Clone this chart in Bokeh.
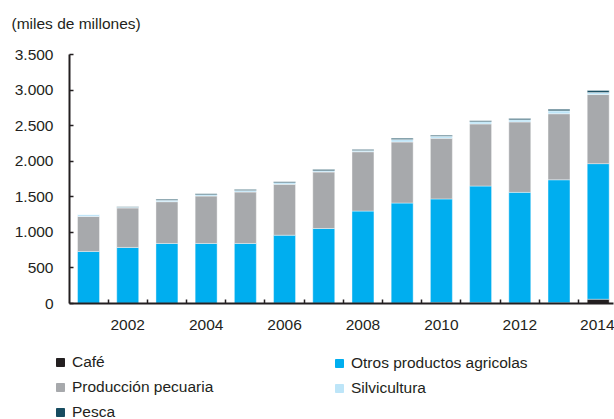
from bokeh.plotting import figure
from bokeh.layouts import column
from bokeh.core.properties import value
from bokeh.models import (ColumnDataSource, FixedTicker, Legend, LegendItem, Range1d)
from bokeh.embed import file_html
from bokeh.resources import INLINE

years = [2001, 2002, 2003, 2004, 2005, 2006, 2007, 2008, 2009, 2010, 2011, 2012, 2013, 2014]
cafe = [3, 3, 3, 3, 3, 5, 5, 5, 5, 15, 15, 8, 12, 60]
otros = [729, 785, 841, 841, 841, 955, 1049, 1294, 1407, 1455, 1636, 1554, 1727, 1906]
pecuaria = [492, 555, 587, 666, 723, 715, 794, 834, 858, 852, 873, 990, 928, 971]
silvicultura = [26, 10, 19, 20, 20, 24, 18, 19, 34, 28, 31, 30, 41, 30]
pesca = [2, 8, 14, 14, 14, 14, 16, 14, 18, 14, 14, 18, 22, 28]

series_keys = ["cafe", "otros", "pecuaria", "silvicultura", "pesca"]
series_names = ["Café", "Otros productos agricolas", "Producción pecuaria", "Silvicultura", "Pesca"]
series_colors = ["#231f20", "#00aeef", "#a7a9ac", "#bde5f8", "#174c60"]

x_label_years = [2002, 2004, 2006, 2008, 2010, 2012, 2014]
x_minor = [2001.5, 2002.5, 2003.5, 2004.5, 2005.5, 2006.5, 2007.5, 2008.5, 2009.5,
           2010.5, 2011.5, 2012.5, 2013.5]
y_ticks = [0, 500, 1000, 1500, 2000, 2500, 3000, 3500]
y_tick_labels = ["0", "500", "1.000", "1.500", "2.000", "2.500", "3.000", "3.500"]
unit_label = "(miles de millones)"

source = ColumnDataSource(dict(years=years, cafe=cafe, otros=otros, pecuaria=pecuaria,
                               silvicultura=silvicultura, pesca=pesca))

FONT = "Liberation Sans"
TXT = "#231f20"
W = 614

# ---- header strip with the unit label ----
p0 = figure(width=W, height=40, output_backend="svg", toolbar_location=None,
            x_range=Range1d(0, W), y_range=Range1d(40, 0),
            x_axis_location=None, y_axis_location=None,
            min_border_left=0, min_border_right=0, min_border_top=0, min_border_bottom=0)
p0.grid.visible = False
p0.outline_line_color = None
p0.frame_align = False
p0.text(x=[11], y=[23], text=[unit_label], text_font=value(FONT), text_font_size="15.5px",
        text_color=TXT, text_baseline="middle", text_align="left")

# ---- main chart ----
p = figure(width=W, height=299, output_backend="svg", toolbar_location=None,
           x_range=Range1d(2000.515, 2014.39), y_range=Range1d(0, 3500),
           min_border_left=69, min_border_right=1, min_border_top=14, min_border_bottom=36)
p.outline_line_color = None
p.xgrid.grid_line_color = None
p.ygrid.grid_line_color = None
p.background_fill_color = "white"
p.frame_align = False

renderers = p.vbar_stack(series_keys, x="years", width=0.56, source=source,
                         color=series_colors, line_color="white", line_width=0.4)

xa = p.xaxis[0]
xa.ticker = FixedTicker(ticks=x_label_years, minor_ticks=x_minor)
xa.axis_line_width = 2
xa.axis_line_color = TXT
xa.major_tick_in = 0
xa.major_tick_out = 0
xa.minor_tick_in = 4
xa.minor_tick_out = 0
xa.minor_tick_line_color = TXT
xa.minor_tick_line_width = 1.5
xa.major_label_text_font = FONT
xa.major_label_text_font_size = "15.5px"
xa.major_label_text_color = TXT
xa.major_label_standoff = 16

ya = p.yaxis[0]
ya.ticker = FixedTicker(ticks=y_ticks)
ya.major_label_overrides = {t: l for t, l in zip(y_ticks, y_tick_labels)}
ya.axis_line_width = 2
ya.axis_line_color = TXT
ya.major_tick_in = 4
ya.major_tick_out = 0
ya.major_tick_line_color = TXT
ya.major_tick_line_width = 1.5
ya.minor_tick_line_color = None
ya.major_label_text_font = FONT
ya.major_label_text_font_size = "15.5px"
ya.major_label_text_color = TXT
ya.major_label_standoff = 16

# ---- legend strip (swatches reuse the series colours) ----
p2 = figure(width=W, height=80, output_backend="svg", toolbar_location=None,
            x_range=Range1d(0, 1), y_range=Range1d(0, 1),
            x_axis_location=None, y_axis_location=None,
            min_border_left=0, min_border_right=0, min_border_top=0, min_border_bottom=0)
p2.grid.visible = False
p2.outline_line_color = None
p2.frame_align = False

swatches = [p2.vbar(x=[-5], top=[0], width=0.1, color=c) for c in series_colors]
legend_style = dict(orientation="vertical", glyph_width=10, glyph_height=10, label_standoff=7,
                    label_height=16, spacing=7, padding=0, margin=0,
                    label_text_font=FONT, label_text_font_size="15.5px",
                    label_text_color=TXT, border_line_color=None,
                    background_fill_alpha=0)
left_idx = [0, 2, 4]
right_idx = [1, 3]
leg_left = Legend(items=[LegendItem(label=series_names[i], renderers=[swatches[i]]) for i in left_idx],
                  location=(55, -2), **legend_style)
leg_right = Legend(items=[LegendItem(label=series_names[i], renderers=[swatches[i]]) for i in right_idx],
                   location=(334, 22), **legend_style)
p2.add_layout(leg_left, "center")
p2.add_layout(leg_right, "center")

layout = column(p0, p, p2, spacing=0)
open("out.html", "w").write(file_html(layout, INLINE))
